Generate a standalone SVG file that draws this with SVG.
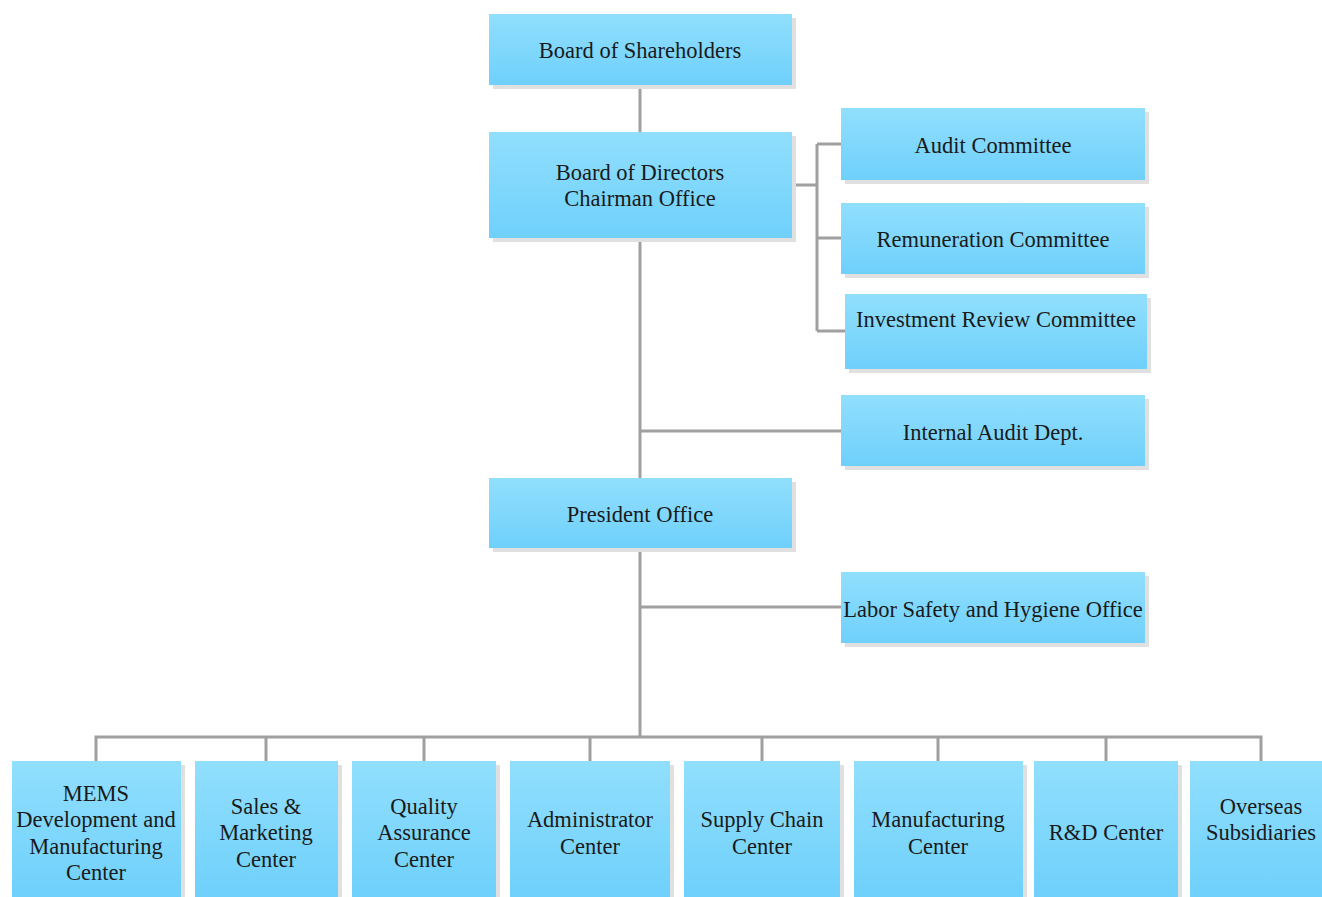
<svg xmlns="http://www.w3.org/2000/svg" width="1322" height="897" viewBox="0 0 1322 897">
<defs>
<linearGradient id="g" x1="0" y1="0" x2="0" y2="1">
<stop offset="0" stop-color="#91dffd"/>
<stop offset="1" stop-color="#6fd0fb"/>
</linearGradient>
<style>
.sh{fill:#e0e0e0}
.bx{fill:url(#g)}
text{font-family:"Liberation Serif","Times New Roman",serif;font-size:22.5px;fill:#1a1a1a;text-anchor:middle;dominant-baseline:central}
.c{stroke:#a0a0a0;stroke-width:3;fill:none}
</style>
</defs>
<rect width="1322" height="897" fill="#ffffff"/>
<g id="connectors">
<path class="c" d="M640,85V132M640,238V478M640,548V737M640,431H841M640,607H841"/>
<path class="c" d="M792,185H817M817,144V331M817,144H841M817,238H841M817,331H845"/>
<path class="c" d="M96,761V737H1261V761M266,737V761M424,737V761M590,737V761M762,737V761M938,737V761M1106,737V761"/>
</g>
<g id="n-shareholders"><rect class="sh" x="493" y="18" width="303" height="71"/><rect class="bx" x="489" y="14" width="303" height="71"/><text x="640" y="50">Board of Shareholders</text></g>
<g id="n-directors"><rect class="sh" x="493" y="136" width="303" height="106"/><rect class="bx" x="489" y="132" width="303" height="106"/><text x="640" y="172">Board of Directors</text><text x="640" y="198">Chairman Office</text></g>
<g id="n-audit"><rect class="sh" x="845" y="112" width="304" height="72"/><rect class="bx" x="841" y="108" width="304" height="72"/><text x="993" y="145">Audit Committee</text></g>
<g id="n-remuneration"><rect class="sh" x="845" y="207" width="304" height="71"/><rect class="bx" x="841" y="203" width="304" height="71"/><text x="993" y="239">Remuneration Committee</text></g>
<g id="n-investment"><rect class="sh" x="849" y="298" width="302" height="75"/><rect class="bx" x="845" y="294" width="302" height="75"/><text x="996" y="319">Investment Review Committee</text></g>
<g id="n-internal"><rect class="sh" x="845" y="399" width="304" height="71"/><rect class="bx" x="841" y="395" width="304" height="71"/><text x="993" y="432">Internal Audit Dept.</text></g>
<g id="n-president"><rect class="sh" x="493" y="482" width="303" height="70"/><rect class="bx" x="489" y="478" width="303" height="70"/><text x="640" y="514">President Office</text></g>
<g id="n-labor"><rect class="sh" x="845" y="576" width="304" height="71"/><rect class="bx" x="841" y="572" width="304" height="71"/><text x="993" y="609">Labor Safety and Hygiene Office</text></g>
<g id="n-mems"><rect class="sh" x="16" y="765" width="169" height="136"/><rect class="bx" x="12" y="761" width="169" height="136"/><text x="96" y="793">MEMS</text><text x="96" y="819">Development and</text><text x="96" y="846">Manufacturing</text><text x="96" y="872">Center</text></g>
<g id="n-sales"><rect class="sh" x="199" y="765" width="143" height="136"/><rect class="bx" x="195" y="761" width="143" height="136"/><text x="266" y="806">Sales &amp;</text><text x="266" y="832">Marketing</text><text x="266" y="859">Center</text></g>
<g id="n-quality"><rect class="sh" x="356" y="765" width="144" height="136"/><rect class="bx" x="352" y="761" width="144" height="136"/><text x="424" y="806">Quality</text><text x="424" y="832">Assurance</text><text x="424" y="859">Center</text></g>
<g id="n-admin"><rect class="sh" x="514" y="765" width="160" height="136"/><rect class="bx" x="510" y="761" width="160" height="136"/><text x="590" y="819">Administrator</text><text x="590" y="846">Center</text></g>
<g id="n-supply"><rect class="sh" x="688" y="765" width="156" height="136"/><rect class="bx" x="684" y="761" width="156" height="136"/><text x="762" y="819">Supply Chain</text><text x="762" y="846">Center</text></g>
<g id="n-manufacturing"><rect class="sh" x="858" y="765" width="169" height="136"/><rect class="bx" x="854" y="761" width="169" height="136"/><text x="938" y="819">Manufacturing</text><text x="938" y="846">Center</text></g>
<g id="n-rd"><rect class="sh" x="1038" y="765" width="144" height="136"/><rect class="bx" x="1034" y="761" width="144" height="136"/><text x="1106" y="832">R&amp;D Center</text></g>
<g id="n-overseas"><rect class="sh" x="1194" y="765" width="132" height="136"/><rect class="bx" x="1190" y="761" width="132" height="136"/><text x="1261" y="806">Overseas</text><text x="1261" y="832">Subsidiaries</text></g>
</svg>
